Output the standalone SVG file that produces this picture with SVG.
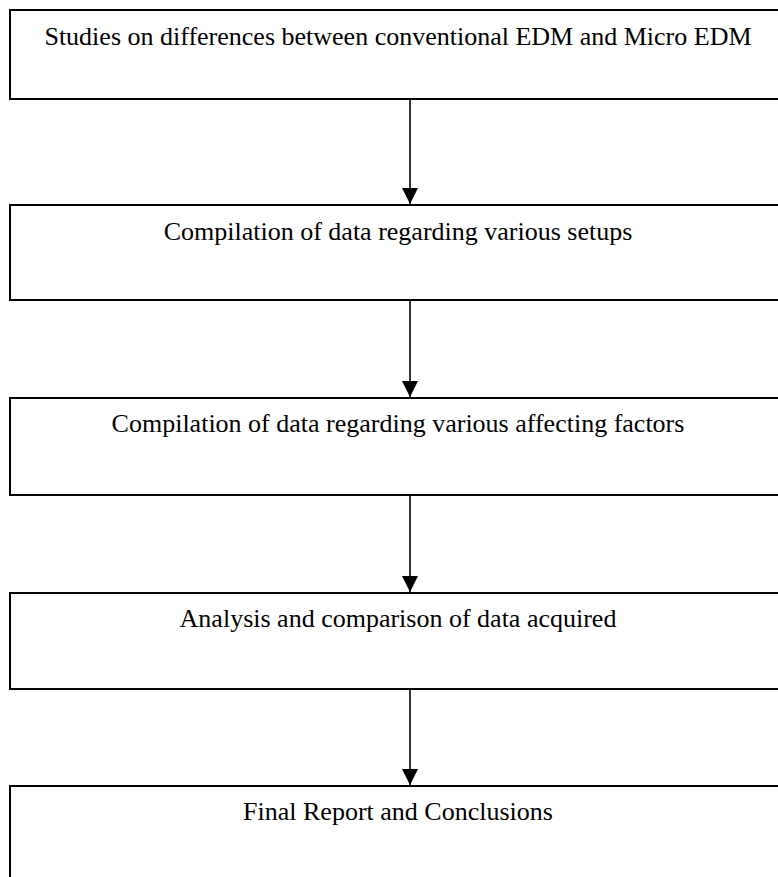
<svg xmlns="http://www.w3.org/2000/svg" width="778" height="877" viewBox="0 0 778 877">
  <style>
    .box { fill: #ffffff; stroke: #000000; stroke-width: 2; }
    .label { font-family: "Liberation Serif", "Times New Roman", serif; font-size: 26px; fill: #000000; text-anchor: middle; }
    .edge { stroke: #000000; stroke-width: 1.6; fill: none; }
  </style>
  <defs>
    <!-- arrowhead drawn along +x so orient="auto" turns it to follow the line -->
    <marker id="arrow" viewBox="0 0 16 16" refX="16" refY="8" markerWidth="16" markerHeight="16" markerUnits="userSpaceOnUse" orient="auto">
      <path d="M0,0 L16,8 L0,16 Z" fill="#000000"/>
    </marker>
  </defs>
  <rect width="778" height="877" fill="#ffffff"/>

  <g id="node-studies">
    <rect class="box" x="10" y="10" width="800" height="89"/>
    <text class="label" x="398" y="45">Studies on differences between conventional EDM and Micro EDM</text>
  </g>
  <g id="node-setups">
    <rect class="box" x="10" y="205" width="800" height="95"/>
    <text class="label" x="398" y="240">Compilation of data regarding various setups</text>
  </g>
  <g id="node-factors">
    <rect class="box" x="10" y="398" width="800" height="97"/>
    <text class="label" x="398" y="432">Compilation of data regarding various affecting factors</text>
  </g>
  <g id="node-analysis">
    <rect class="box" x="10" y="593" width="800" height="96"/>
    <text class="label" x="398" y="627">Analysis and comparison of data acquired</text>
  </g>
  <g id="node-report">
    <rect class="box" x="10" y="786" width="800" height="120"/>
    <text class="label" x="398" y="820">Final Report and Conclusions</text>
  </g>

  <g id="connectors">
    <line class="edge" x1="410" y1="100" x2="410" y2="204" marker-end="url(#arrow)"/>
    <line class="edge" x1="410" y1="301" x2="410" y2="397" marker-end="url(#arrow)"/>
    <line class="edge" x1="410" y1="496" x2="410" y2="592" marker-end="url(#arrow)"/>
    <line class="edge" x1="410" y1="690" x2="410" y2="785" marker-end="url(#arrow)"/>
  </g>
</svg>
